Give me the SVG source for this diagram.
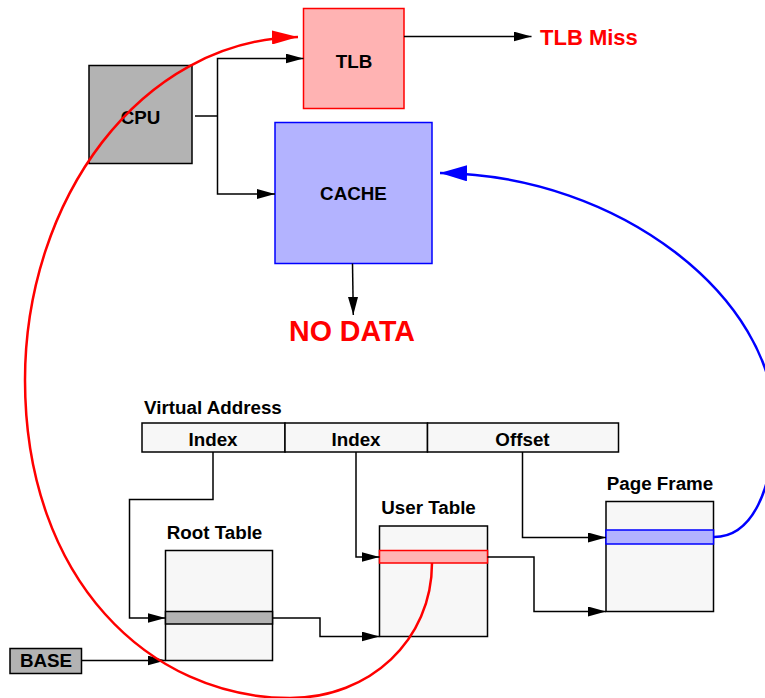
<svg xmlns="http://www.w3.org/2000/svg" width="765" height="698" viewBox="0 0 765 698">
  <style>
    .lbl { font-family: "Liberation Sans", Arial, sans-serif; font-weight: bold; font-size: 18.8px; fill: #000; }
    .box { stroke: #000; stroke-width: 1.5; }
    .tbl { fill: #f7f7f7; stroke: #000; stroke-width: 1.5; }
    .wire { fill: none; stroke: #000; stroke-width: 1.5; marker-end: url(#ah); }
    .plain { fill: none; stroke: #000; stroke-width: 1.5; }
  </style>
  <defs>
    <marker id="ah" markerUnits="userSpaceOnUse" markerWidth="18" markerHeight="10" refX="18" refY="5" orient="auto" viewBox="0 0 18 10">
      <path d="M0,0 L18,5 L0,10 z" fill="#000"/>
    </marker>
    <marker id="ahRed" markerUnits="userSpaceOnUse" markerWidth="26" markerHeight="14" refX="26" refY="7" orient="auto" viewBox="0 0 26 14">
      <path d="M0,0 L26,7 L0,14 z" fill="#ff0000"/>
    </marker>
    <marker id="ahBlue" markerUnits="userSpaceOnUse" markerWidth="27" markerHeight="16" refX="27" refY="8" orient="auto" viewBox="0 0 27 16">
      <path d="M0,0 L27,8 L0,16 z" fill="#0000ff"/>
    </marker>
  </defs>

  <rect width="765" height="698" fill="#fff"/>

  <!-- processor side -->
  <g id="cpu">
    <rect class="box" x="89" y="65.5" width="103" height="98" fill="#b3b3b3"/>
    <text class="lbl" x="140.5" y="124" text-anchor="middle">CPU</text>
  </g>
  <g id="tlb">
    <rect x="303.5" y="8.5" width="100.5" height="100" fill="#ffb3b3" stroke="#ff0000" stroke-width="1.5"/>
    <text class="lbl" x="354" y="67.5" text-anchor="middle">TLB</text>
  </g>
  <g id="cache">
    <rect x="275" y="122.5" width="157" height="141" fill="#b3b3ff" stroke="#0000ff" stroke-width="1.5"/>
    <text class="lbl" x="353.5" y="200" text-anchor="middle">CACHE</text>
  </g>
  <g id="tlb-miss">
    <text x="540" y="45" font-family="Liberation Sans, Arial, sans-serif" font-weight="bold" font-size="22" fill="#ff0000">TLB Miss</text>
  </g>
  <g id="no-data">
    <text x="352" y="341" text-anchor="middle" font-family="Liberation Sans, Arial, sans-serif" font-weight="bold" font-size="28.6" fill="#ff0000">NO DATA</text>
  </g>

  <!-- address layout -->
  <g id="virtual-address">
    <text class="lbl" x="144" y="414">Virtual Address</text>
    <rect class="tbl" x="142" y="423" width="143" height="29"/>
    <rect class="tbl" x="285" y="423" width="142.5" height="29"/>
    <rect class="tbl" x="427.5" y="423" width="191" height="29"/>
    <text class="lbl" x="213" y="445.5" text-anchor="middle">Index</text>
    <text class="lbl" x="356" y="445.5" text-anchor="middle">Index</text>
    <text class="lbl" x="522.5" y="445.5" text-anchor="middle">Offset</text>
  </g>

  <g id="root-table">
    <text class="lbl" x="214.5" y="538.5" text-anchor="middle">Root Table</text>
    <rect class="tbl" x="165.5" y="550.5" width="107" height="110"/>
    <rect class="box" x="165.5" y="611.5" width="107" height="12.5" fill="#b3b3b3"/>
  </g>

  <g id="user-table">
    <text class="lbl" x="428.5" y="513.5" text-anchor="middle">User Table</text>
    <rect class="tbl" x="379.5" y="526" width="108" height="110.5"/>
    <rect x="379.5" y="550.5" width="108" height="12.5" fill="#ffb3b3" stroke="#ff0000" stroke-width="1.5"/>
  </g>

  <g id="page-frame">
    <text class="lbl" x="660" y="490" text-anchor="middle">Page Frame</text>
    <rect class="tbl" x="606" y="501.5" width="107.5" height="110"/>
    <rect x="606" y="530" width="107.5" height="14" fill="#b3b3ff" stroke="#0000ff" stroke-width="1.5"/>
  </g>

  <g id="base">
    <rect class="box" x="10" y="648.5" width="71.5" height="25" fill="#b3b3b3"/>
    <text class="lbl" x="46" y="666.5" text-anchor="middle">BASE</text>
  </g>

  <!-- connectors -->
  <g id="connectors">
    <path class="plain" d="M195,116 H217.5"/>
    <path class="wire" d="M217.5,116 V58.5 H303.5"/>
    <path class="wire" d="M217.5,116 V194 H275"/>
    <path class="wire" d="M404,36.5 H531.5"/>
    <path class="wire" d="M352.5,263.5 L353.3,315"/>

    <path class="wire" d="M213,452 V499.5 H129.5 V618 H165.5"/>
    <path class="wire" d="M356,452 V557 H379.5"/>
    <path class="wire" d="M522.5,452 V537.5 H606"/>
    <path class="wire" d="M272.5,618 H320 V636.5 H379.5"/>
    <path class="wire" d="M487.5,557 H534 V611.5 H606"/>
    <path class="wire" d="M81.5,660.5 H165.5"/>

    <!-- page frame entry back to the cache -->
    <path d="M714,537 C752,537 774,490 774,420 C774,300 622,175 440,173" fill="none" stroke="#0000ff" stroke-width="2.5" marker-end="url(#ahBlue)"/>
    <!-- user table entry back to the TLB -->
    <path d="M432,563 C432,640 370,698 290,698 C150,698 25,580 25,380 C25,200 140,40 298,37" fill="none" stroke="#ff0000" stroke-width="2.5" marker-end="url(#ahRed)"/>
  </g>
</svg>
